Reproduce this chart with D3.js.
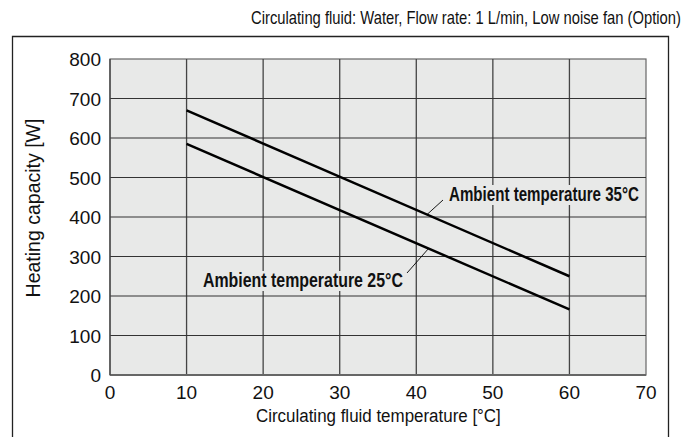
<!DOCTYPE html>
<html>
<head>
<meta charset="utf-8">
<script src="https://cdn.jsdelivr.net/npm/d3@7"></script>
<style>
  body { margin: 0; background: #fff; }
  text { font-family: "Liberation Sans", Arial, sans-serif; fill: #111; }
  .note { font-weight: bold; }
</style>
</head>
<body>
<div id="chart"></div>
<script>
// data
var xTicks = [0, 10, 20, 30, 40, 50, 60, 70];
var yTicks = [0, 100, 200, 300, 400, 500, 600, 700, 800];
var fluidTemp = [10, 60];
var heat35 = [670, 250];
var heat25 = [585, 166];
var seriesLabels = ["Ambient temperature 35°C", "Ambient temperature 25°C"];

var width = 685, height = 437;
var margin = { left: 110, right: 39, top: 59, bottom: 62 };

var svg = d3.select("#chart")
  .append("svg")
  .attr("width", width)
  .attr("height", height);

// source type is narrow: draw at full height, then squeeze sideways to the measured width
function narrowText(parent, str, left, base, size, w, cls) {
  var t = parent.append("text")
    .attr("class", cls || null)
    .style("font-size", size + "px")
    .text(str);
  var k = w / t.node().getComputedTextLength();
  t.attr("transform", "translate(" + left + "," + base + ") scale(" + k + ",1)");
  return t;
}

// outer frame (no bottom edge)
svg.append("path")
  .attr("d", "M12.5,437V36.5H668.5V437")
  .attr("fill", "none")
  .attr("stroke", "#222")
  .attr("stroke-width", 1.3);

narrowText(svg, "Circulating fluid: Water, Flow rate: 1 L/min, Low noise fan (Option)", 251, 24, 18, 430);

var x = d3.scaleLinear().domain([0, 70]).range([margin.left, width - margin.right]);
var y = d3.scaleLinear().domain([0, 800]).range([height - margin.bottom, margin.top]);

var g = svg.append("g");

g.append("rect")
  .attr("x", x(0))
  .attr("y", y(800))
  .attr("width", x(70) - x(0))
  .attr("height", y(0) - y(800))
  .attr("fill", "#e8e9e8")
  .attr("stroke", "#666")
  .attr("stroke-width", 1.2);

// grid
g.selectAll(".vgrid")
  .data(xTicks.slice(1, -1))
  .enter().append("line")
  .attr("x1", function(d) { return x(d); })
  .attr("x2", function(d) { return x(d); })
  .attr("y1", y(0))
  .attr("y2", y(800))
  .attr("stroke", "#444")
  .attr("stroke-width", 1.3);

g.selectAll(".hgrid")
  .data(yTicks.slice(1, -1))
  .enter().append("line")
  .attr("x1", x(0))
  .attr("x2", x(70))
  .attr("y1", function(d) { return y(d); })
  .attr("y2", function(d) { return y(d); })
  .attr("stroke", "#333")
  .attr("stroke-width", 1.2);

// bottom / left edges
g.append("line")
  .attr("x1", x(0)).attr("x2", x(70))
  .attr("y1", y(0)).attr("y2", y(0))
  .attr("stroke", "#666").attr("stroke-width", 2);
g.append("line")
  .attr("x1", x(0)).attr("x2", x(0))
  .attr("y1", y(0)).attr("y2", y(800))
  .attr("stroke", "#444").attr("stroke-width", 1.3);

// tick labels
g.selectAll(".xt")
  .data(xTicks)
  .enter().append("text")
  .attr("x", function(d) { return x(d); })
  .attr("y", y(0) + 24)
  .attr("text-anchor", "middle")
  .style("font-size", "19px")
  .text(function(d) { return d; });

g.selectAll(".yt")
  .data(yTicks)
  .enter().append("text")
  .attr("x", x(0) - 9)
  .attr("y", function(d) { return y(d) + 7; })
  .attr("text-anchor", "end")
  .style("font-size", "19px")
  .text(function(d) { return d; });

narrowText(svg, "Circulating fluid temperature [°C]", 256, 422, 19, 245);

svg.append("text")
  .attr("transform", "translate(40,208) rotate(-90)")
  .attr("text-anchor", "middle")
  .style("font-size", "19.5px")
  .text("Heating capacity [W]");

// lines
var line = d3.line()
  .x(function(d, i) { return x(fluidTemp[i]); })
  .y(function(d) { return y(d); });

[heat35, heat25].forEach(function(s) {
  g.append("path")
    .datum(s)
    .attr("d", line)
    .attr("fill", "none")
    .attr("stroke", "#000")
    .attr("stroke-width", 2.5);
});

// annotations with leaders
function valueAt(s, t) {
  return s[0] + (s[1] - s[0]) * (t - fluidTemp[0]) / (fluidTemp[1] - fluidTemp[0]);
}

function note(label, tx, ty, len, lx, ly, at, s) {
  // gray patch behind the label hides the grid
  g.append("rect")
    .attr("x", tx - 3)
    .attr("y", ty - 16)
    .attr("width", len + 6)
    .attr("height", 20)
    .attr("fill", "#e8e9e8");
  narrowText(g, label, tx, ty, 20, len, "note");
  g.append("line")
    .attr("x1", lx).attr("y1", ly)
    .attr("x2", x(at)).attr("y2", y(valueAt(s, at)))
    .attr("stroke", "#000")
    .attr("stroke-width", 0.9);
}

note(seriesLabels[0], 449, 201, 190, 443, 200, 41.4, heat35);
note(seriesLabels[1], 203, 287, 200, 407, 273, 41.6, heat25);
</script>
</body>
</html>
